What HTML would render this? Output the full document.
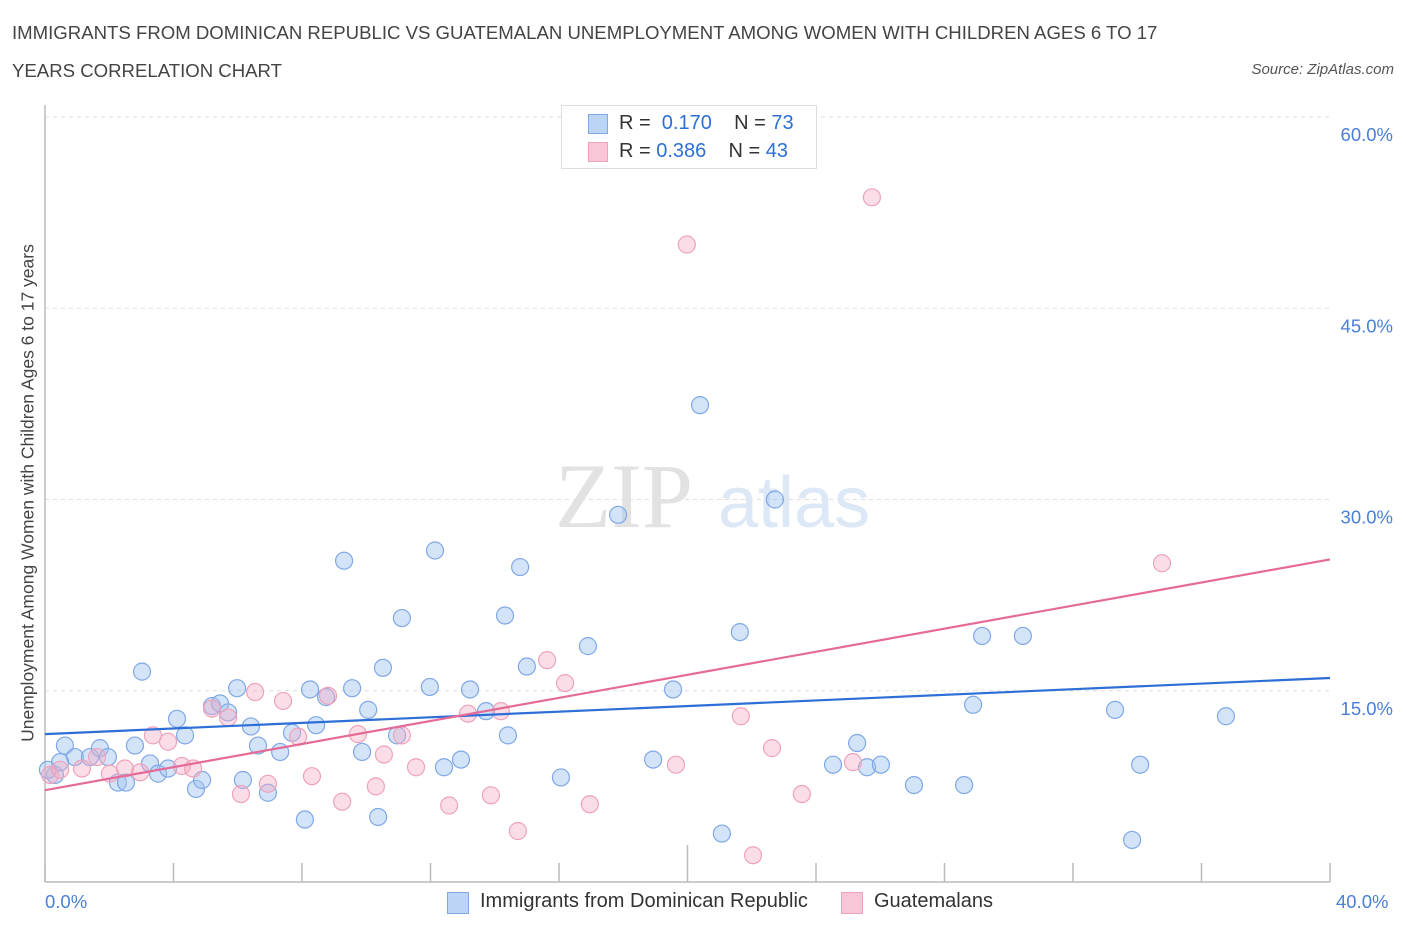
<!DOCTYPE html>
<html><head><meta charset="utf-8"><style>
body{margin:0;background:#fff;font-family:"Liberation Sans",sans-serif;}
#wrap{position:relative;width:1406px;height:930px;overflow:hidden;}
.t{position:absolute;white-space:nowrap;}
</style></head><body>
<div id="wrap">
<div class="t" style="left:12px;top:14px;font-size:18.6px;color:#444;line-height:38px;">IMMIGRANTS FROM DOMINICAN REPUBLIC VS GUATEMALAN UNEMPLOYMENT AMONG WOMEN WITH CHILDREN AGES 6 TO 17<br>YEARS CORRELATION CHART</div>
<div class="t" style="right:12px;top:61px;font-size:15px;color:#555;font-style:italic;">Source: ZipAtlas.com</div>
<svg id="svg" width="1406" height="930" style="position:absolute;left:0;top:0"></svg>
</div>
<script>
const blueX=[0.31,0.62,0.93,1.4,1.71,1.96,2.27,2.52,2.80,3.02,3.27,3.52,3.83,4.11,4.36,4.70,4.89,5.20,5.45,5.70,5.98,6.16,6.41,6.63,6.94,7.32,7.69,8.09,8.25,8.44,8.75,9.31,9.56,9.87,10.06,10.37,10.52,10.96,11.11,11.98,12.14,12.42,12.95,13.23,13.73,14.32,14.41,14.79,15.00,16.06,16.90,17.84,18.93,19.55,20.39,21.07,21.63,22.72,24.53,25.28,25.59,26.02,27.05,28.61,28.89,29.17,30.44,33.31,34.09,33.84,36.76,0.09,0.47];
const blueY=[8.4,10.7,9.8,9.8,10.5,9.8,7.8,7.8,10.7,16.5,9.3,8.5,8.9,12.8,11.5,7.3,8.0,13.8,14.0,13.3,15.2,8.0,12.2,10.7,7.0,10.2,11.7,4.9,15.1,12.3,14.5,25.2,15.2,10.2,13.5,5.1,16.8,11.5,20.7,15.3,26.0,9.0,9.6,15.1,13.4,20.9,11.5,24.7,16.9,8.2,18.5,28.8,9.6,15.1,37.4,3.8,19.6,30.0,9.2,10.9,9.0,9.2,7.6,7.6,13.9,19.3,19.3,13.5,9.2,3.3,13.0,8.8,9.4];
const pinkX=[0.16,0.47,1.15,1.62,2.02,2.49,2.96,3.36,3.83,4.26,4.61,5.20,5.70,6.10,6.54,6.94,7.41,7.88,8.31,8.81,9.25,9.74,10.30,10.55,11.11,11.55,12.58,13.17,13.88,14.19,14.72,15.63,16.19,16.96,19.64,19.98,21.66,22.04,22.63,23.56,25.15,25.74,34.77];
const pinkY=[8.4,8.8,8.9,9.8,8.5,8.9,8.6,11.5,11.0,9.1,8.9,13.6,12.9,6.9,14.9,7.7,14.2,11.4,8.3,14.6,6.3,11.6,7.5,10.0,11.5,9.0,6.0,13.2,6.8,13.4,4.0,17.4,15.6,6.1,9.2,50.0,13.0,2.1,10.5,6.9,9.4,53.7,25.0];
const blueTrend=[11.6,16.0];
const pinkTrend=[7.2,25.3];
const yTicks=[15,30,45,60];
const yTickLabels=["15.0%","30.0%","45.0%","60.0%"];
const xTicks=[0,4,8,12,16,20,24,28,32,36,40];
const NS="http://www.w3.org/2000/svg";
const svg=document.getElementById('svg');
const X=v=>45+v*(1285/40), Y=v=>882-v*(765/60);
function mk(tag,attrs){const e=document.createElementNS(NS,tag);for(const k in attrs)e.setAttribute(k,attrs[k]);svg.appendChild(e);return e;}
yTicks.forEach((v,i)=>{
 const g=mk('line',{x1:45,x2:1330,y1:Y(v),y2:Y(v),stroke:'#ddd','stroke-dasharray':'4,4'});
 
 
 const t=mk('text',{x:1393,y:Y(v)+24,'text-anchor':'end','font-size':18.5,fill:'#4a7fd6','font-family':'Liberation Sans'});
 t.textContent=yTickLabels[i];
 
 
});
const w=mk('text',{x:555,y:527,'font-size':92,fill:'#e2e2e2','font-family':'Liberation Serif'});w.textContent='ZIP';


const w2=mk('text',{x:718,y:527,'font-size':72,fill:'#dce8f6','font-family':'Liberation Sans'});w2.textContent='atlas';


const ax=mk('line',{x1:45,x2:1330,y1:882,y2:882,stroke:'#bbb','stroke-width':1.5});


const ay=mk('line',{x1:45,x2:45,y1:105,y2:882,stroke:'#bbb','stroke-width':1.5});


xTicks.forEach(v=>{
 const l=mk('line',{x1:X(v),x2:X(v),y1:v==20?845:863,y2:882,stroke:'#bbb','stroke-width':1.5});
 
 
});
function pts(xs,ys,fill,stroke,name){xs.forEach((x,i)=>{
 const c=mk('circle',{cx:X(x),cy:Y(ys[i]),r:8.5,fill:fill,stroke:stroke,'stroke-width':1.2});
 
 
});}
pts(blueX,blueY,'rgba(160,195,240,0.45)','#7fa8e6','point-dominican');
pts(pinkX,pinkY,'rgba(245,170,195,0.4)','#eea3bb','point-guatemalan');
const bl=mk('line',{x1:X(0),y1:Y(blueTrend[0]),x2:X(40),y2:Y(blueTrend[1]),stroke:'#2d6fd6','stroke-width':2.2});


const pl=mk('line',{x1:X(0),y1:Y(pinkTrend[0]),x2:X(40),y2:Y(pinkTrend[1]),stroke:'#e46a97','stroke-width':2.2});


</script>
<div class="t" style="left:28px;top:493px;font-size:17.5px;color:#444;transform:translate(-50%,-50%) rotate(-90deg);">Unemployment Among Women with Children Ages 6 to 17 years</div>
<div class="t" style="left:45px;top:891px;font-size:18.5px;color:#4a7fd6;">0.0%</div>
<div class="t" style="left:1336px;top:891px;font-size:18.5px;color:#4a7fd6;">40.0%</div>
<div style="position:absolute;left:561px;top:105px;width:254px;height:62px;border:1px solid #ddd;background:#fff;font-size:20px;color:#333;">
 <div style="position:absolute;left:26px;top:8px;width:18px;height:18px;background:#bcd4f5;border:1px solid #7fa8e6;"></div>
 <div class="t" style="left:57px;top:6px;">R = <span style="color:#2d6fd6">&nbsp;0.170</span>&nbsp;&nbsp;&nbsp; N = <span style="color:#2d6fd6">73</span></div>
 <div style="position:absolute;left:26px;top:36px;width:18px;height:18px;background:#f8c6d6;border:1px solid #eea3bb;"></div>
 <div class="t" style="left:57px;top:34px;">R = <span style="color:#2d6fd6">0.386</span>&nbsp;&nbsp;&nbsp; N = <span style="color:#2d6fd6">43</span></div>
</div>
<div style="position:absolute;left:447px;top:890px;font-size:20px;color:#333;">
 <div style="position:absolute;left:0;top:2px;width:20px;height:20px;background:#bcd4f5;border:1px solid #7fa8e6;"></div>
 <div class="t" style="left:33px;top:0;">Immigrants from Dominican Republic</div>
 <div style="position:absolute;left:394px;top:2px;width:20px;height:20px;background:#f8c6d6;border:1px solid #eea3bb;"></div>
 <div class="t" style="left:427px;top:0;">Guatemalans</div>
</div>
</body></html>
